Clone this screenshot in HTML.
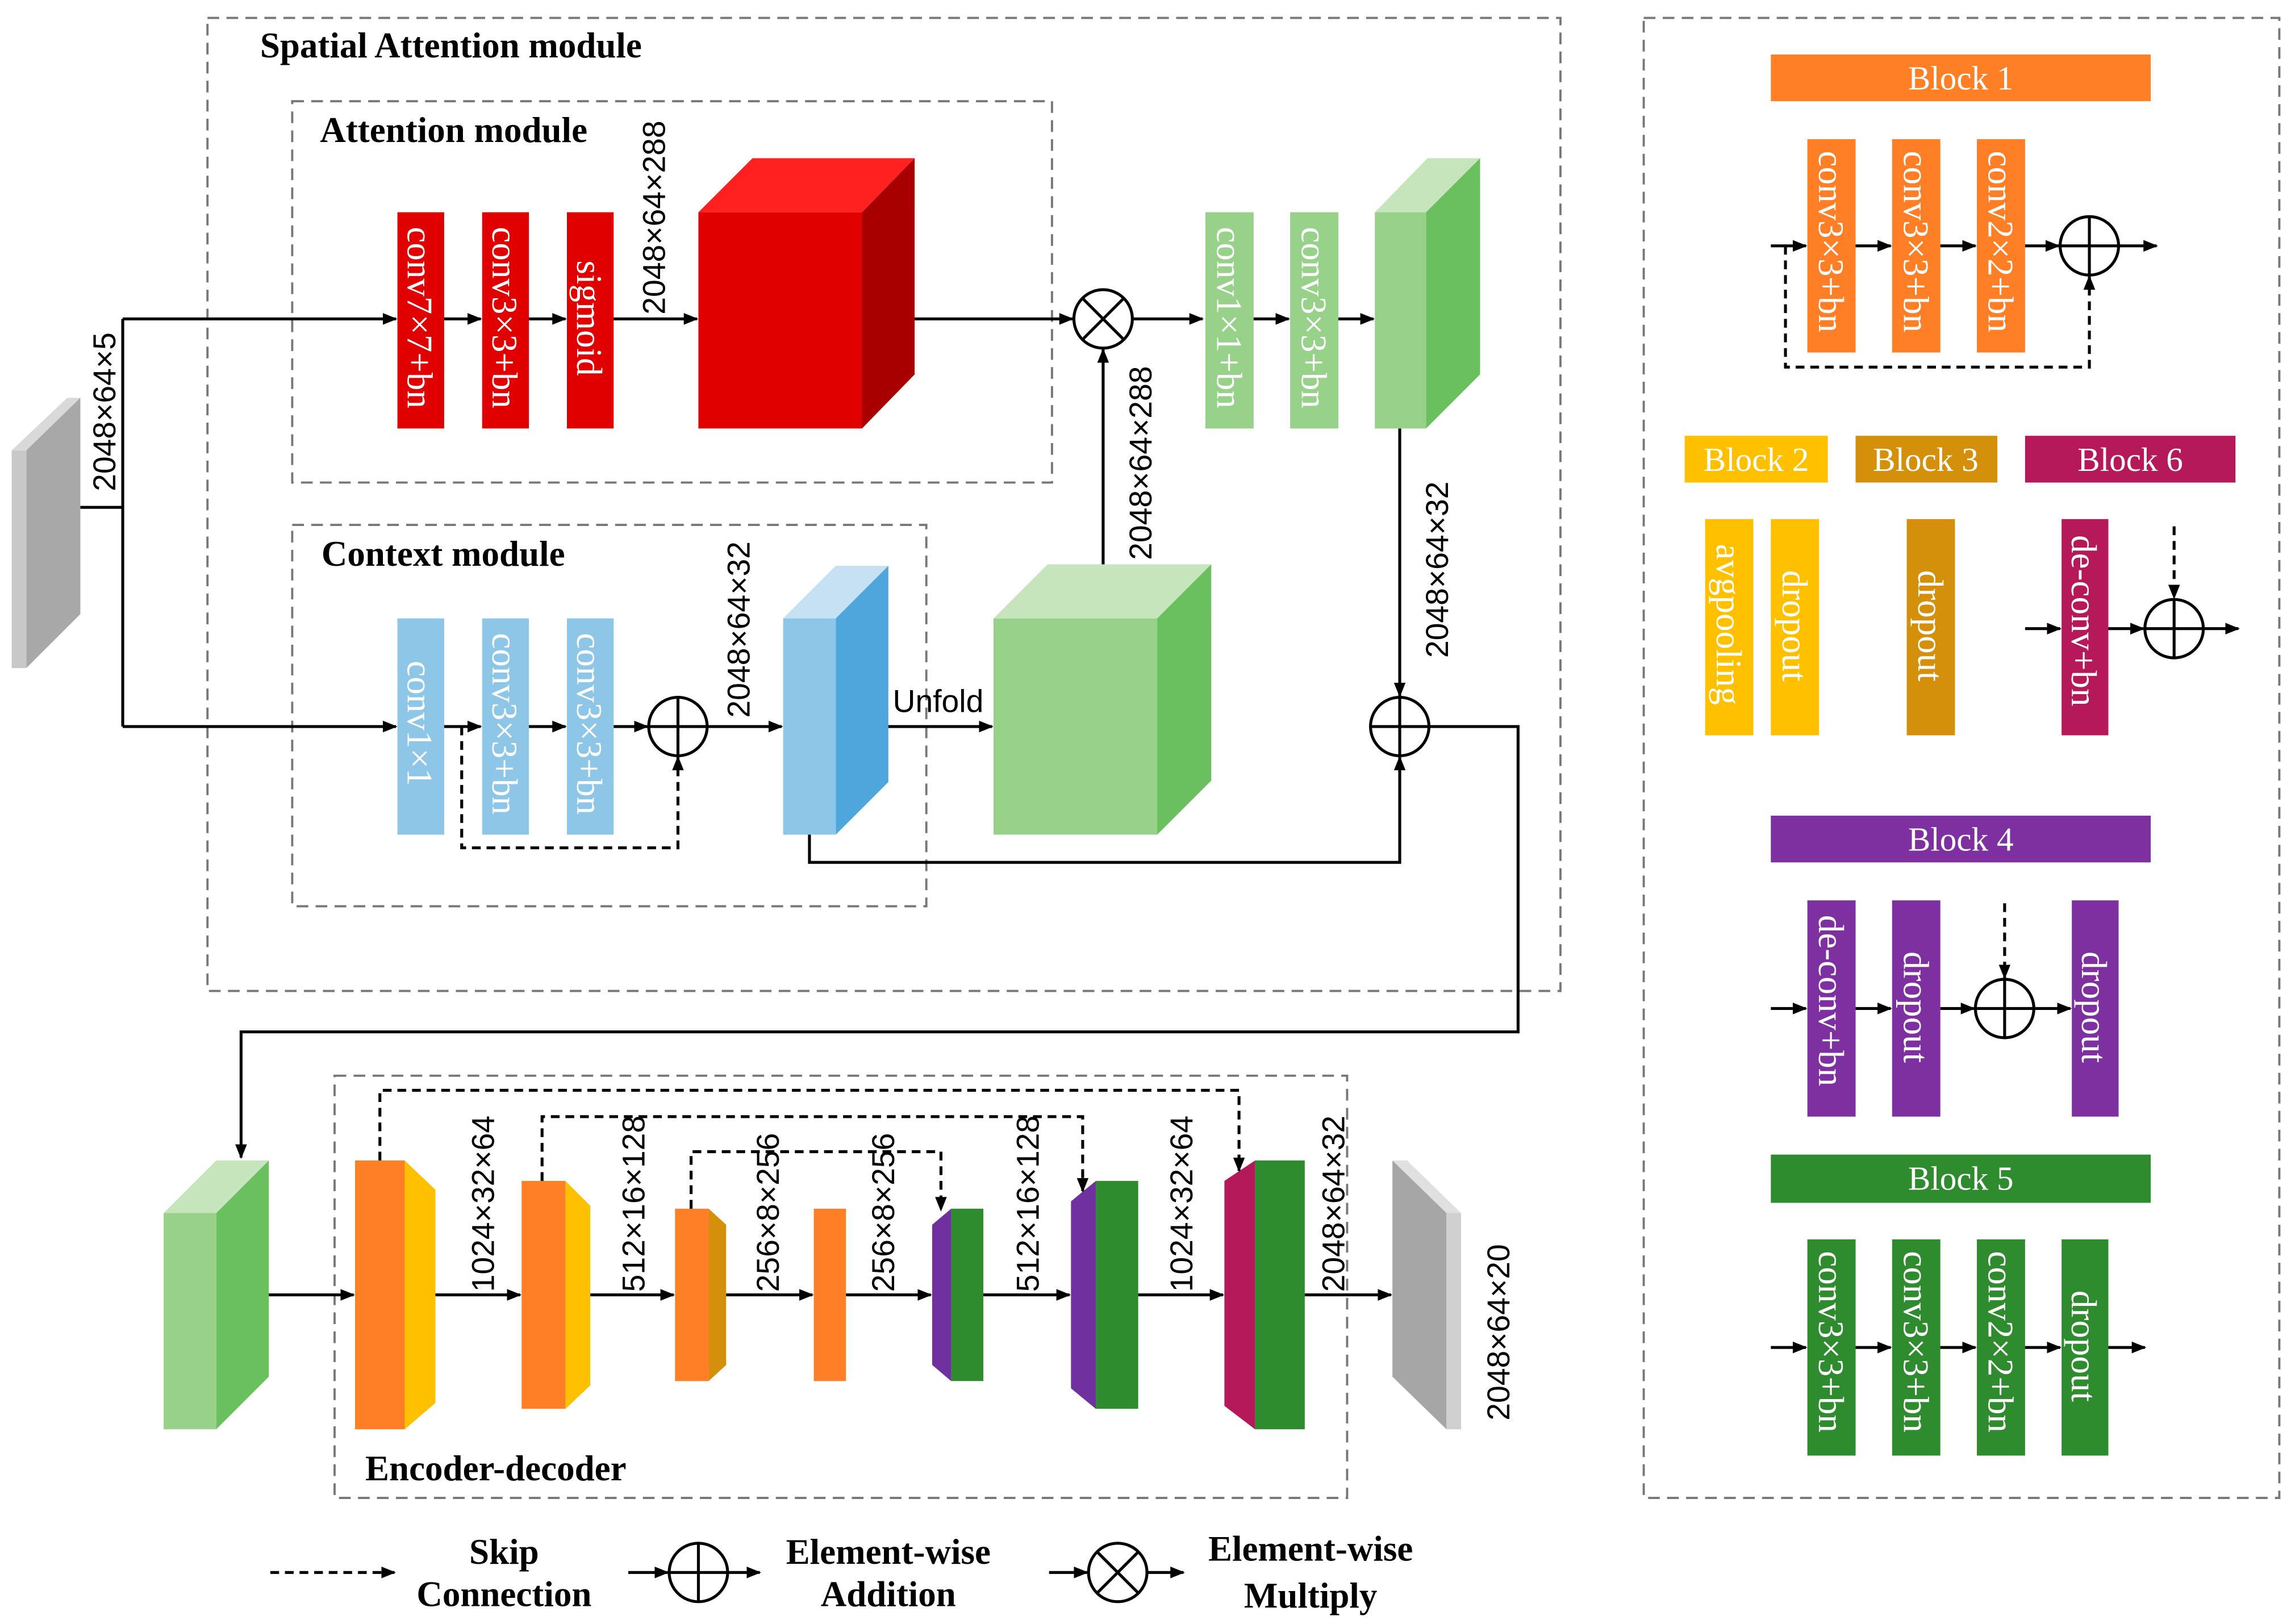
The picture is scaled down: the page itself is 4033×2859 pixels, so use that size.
<!DOCTYPE html>
<html><head><meta charset="utf-8"><style>
html,body{margin:0;padding:0;background:#fff;}
svg{display:block;}
.t{font-family:"Liberation Serif",serif;font-weight:bold;font-size:24.5px;fill:#000;}
.v{font-family:"Liberation Serif",serif;font-size:24.5px;fill:#fff;}
.d{font-family:"Liberation Sans",sans-serif;font-size:21.5px;fill:#000;}
.h{font-family:"Liberation Serif",serif;font-size:23px;fill:#fff;}
.ln{stroke:#000;stroke-width:2;fill:none;}
.ds{stroke:#000;stroke-width:2;fill:none;stroke-dasharray:6,4;}
.bx{stroke:#777;stroke-width:1.5;fill:none;stroke-dasharray:8,5;}
.c{fill:#fff;stroke:#000;stroke-width:2;}
</style></head><body>
<svg width="4033" height="2859" viewBox="0 0 1568 1111" xmlns="http://www.w3.org/2000/svg">
<defs><marker id="a" markerWidth="10" markerHeight="8" refX="9" refY="4" orient="auto" markerUnits="userSpaceOnUse"><path d="M0,0 L10,4 L0,8 z" fill="#000"/></marker></defs>
<rect width="1568" height="1111" fill="#fff"/>
<rect class="bx" x="142" y="12" width="926" height="666"/>
<rect class="bx" x="200" y="69" width="520" height="261"/>
<rect class="bx" x="200" y="359" width="434" height="261"/>
<rect class="bx" x="1125" y="12" width="435" height="1013"/>
<rect class="bx" x="229" y="736" width="693" height="289"/>
<text class="t" x="178" y="39">Spatial Attention module</text>
<text class="t" x="219" y="97">Attention module</text>
<text class="t" x="220" y="387">Context module</text>
<text class="t" x="250" y="1013">Encoder-decoder</text>

<polygon points="8,308 46,272 55,272 18,308" fill="#d9d9d9"/>
<polygon points="18,308 55,272 55,420 18,457" fill="#a8a8a8"/>
<rect x="8" y="308" width="10" height="149" fill="#c8c8c8"/>
<path class="ln" d="M55,347 H84 M84,218 V497"/>
<path class="ln" d="M84,218 H271" marker-end="url(#a)"/>
<path class="ln" d="M84,497 H271" marker-end="url(#a)"/>
<text class="d" transform="translate(79,336) rotate(-90)">2048×64×5</text>

<rect x="272" y="145" width="32" height="148" fill="#e00000"/>
<rect x="330" y="145" width="32" height="148" fill="#e00000"/>
<rect x="388" y="145" width="32" height="148" fill="#e00000"/>
<text class="v" transform="translate(279,155) rotate(90)">conv7×7+bn</text>
<text class="v" transform="translate(337,155) rotate(90)">conv3×3+bn</text>
<text class="v" transform="translate(395,178) rotate(90)">sigmoid</text>
<path class="ln" d="M304,218 H329" marker-end="url(#a)"/>
<path class="ln" d="M362,218 H387" marker-end="url(#a)"/>
<path class="ln" d="M420,218 H477" marker-end="url(#a)"/>
<text class="d" transform="translate(455,215) rotate(-90)">2048×64×288</text>
<polygon points="478,145 515,108 626,108 590,145" fill="#ff2020"/>
<polygon points="590,145 626,108 626,256 590,293" fill="#a80000"/>
<rect x="478" y="145" width="112" height="148" fill="#e00000"/>
<path class="ln" d="M626,218 H734" marker-end="url(#a)"/>
<circle class="c" cx="755" cy="218" r="20"/>
<path class="ln" d="M741,204 L769,232 M769,204 L741,232"/>
<path class="ln" d="M775,218 H823" marker-end="url(#a)"/>
<rect x="825" y="145" width="33" height="148" fill="#97d18a"/>
<rect x="883" y="145" width="33" height="148" fill="#97d18a"/>
<text class="v" transform="translate(833,155) rotate(90)">conv1×1+bn</text>
<text class="v" transform="translate(891,155) rotate(90)">conv3×3+bn</text>
<path class="ln" d="M858,218 H882" marker-end="url(#a)"/>
<path class="ln" d="M916,218 H940" marker-end="url(#a)"/>
<polygon points="941,145 977,108 1013,108 976,145" fill="#c6e5bd"/>
<polygon points="976,145 1013,108 1013,256 976,293" fill="#6abf5e"/>
<rect x="941" y="145" width="35" height="148" fill="#97d18a"/>
<path class="ln" d="M958,293 V476" marker-end="url(#a)"/>
<text class="d" transform="translate(991,450) rotate(-90)">2048×64×32</text>
<circle class="c" cx="958" cy="497" r="20"/>
<path class="ln" d="M938,497 H978 M958,477 V517"/>

<rect x="272" y="423" width="32" height="148" fill="#8ec6e8"/>
<rect x="330" y="423" width="32" height="148" fill="#8ec6e8"/>
<rect x="388" y="423" width="32" height="148" fill="#8ec6e8"/>
<text class="v" transform="translate(279,452) rotate(90)">conv1×1</text>
<text class="v" transform="translate(337,433) rotate(90)">conv3×3+bn</text>
<text class="v" transform="translate(395,433) rotate(90)">conv3×3+bn</text>
<path class="ln" d="M304,497 H329" marker-end="url(#a)"/>
<path class="ln" d="M362,497 H387" marker-end="url(#a)"/>
<path class="ln" d="M420,497 H443" marker-end="url(#a)"/>
<path class="ds" d="M316,497 V580 H464 V518" marker-end="url(#a)"/>
<circle class="c" cx="464" cy="497" r="20"/>
<path class="ln" d="M444,497 H484 M464,477 V517"/>
<path class="ln" d="M484,497 H535" marker-end="url(#a)"/>
<text class="d" transform="translate(513,491) rotate(-90)">2048×64×32</text>
<polygon points="536,423 572,387 608,387 572,423" fill="#c5e1f3"/>
<polygon points="572,423 608,387 608,535 572,571" fill="#4ea6dc"/>
<rect x="536" y="423" width="36" height="148" fill="#8ec6e8"/>
<path class="ln" d="M608,497 H679" marker-end="url(#a)"/>
<text class="d" x="611" y="487">Unfold</text>
<polygon points="680,423 717,386 829,386 792,423" fill="#c6e5bd"/>
<polygon points="792,423 829,386 829,534 792,571" fill="#6abf5e"/>
<rect x="680" y="423" width="112" height="148" fill="#97d18a"/>
<path class="ln" d="M755,386 V239" marker-end="url(#a)"/>
<text class="d" transform="translate(788,383) rotate(-90)">2048×64×288</text>
<path class="ln" d="M554,571 V590 H958 V518" marker-end="url(#a)"/>
<path class="ln" d="M978,497 H1039 V706 H165 V792" marker-end="url(#a)"/>

<polygon points="112,830 148,794 184,794 148,830" fill="#c6e5bd"/>
<polygon points="148,830 184,794 184,942 148,978" fill="#6abf5e"/>
<rect x="112" y="830" width="36" height="148" fill="#97d18a"/>
<path class="ln" d="M184,886 H242" marker-end="url(#a)"/>
<rect x="243" y="794" width="34" height="184" fill="#ff7f27"/>
<polygon points="277,794 298,814 298,960 277,978" fill="#ffc000"/>
<path class="ln" d="M298,886 H356" marker-end="url(#a)"/>
<text class="d" transform="translate(338,884) rotate(-90)">1024×32×64</text>
<rect x="357" y="808" width="30" height="156" fill="#ff7f27"/>
<polygon points="387,808 404,825 404,948 387,964" fill="#ffc000"/>
<path class="ln" d="M404,886 H461" marker-end="url(#a)"/>
<text class="d" transform="translate(441,884) rotate(-90)">512×16×128</text>
<rect x="462" y="827" width="23" height="118" fill="#ff7f27"/>
<polygon points="485,827 497,838 497,934 485,945" fill="#d4900a"/>
<path class="ln" d="M497,886 H556" marker-end="url(#a)"/>
<text class="d" transform="translate(533,884) rotate(-90)">256×8×256</text>
<rect x="557" y="827" width="22" height="118" fill="#ff7f27"/>
<path class="ln" d="M579,886 H637" marker-end="url(#a)"/>
<text class="d" transform="translate(612,884) rotate(-90)">256×8×256</text>
<polygon points="638,838 651,827 651,945 638,934" fill="#7030a0"/>
<rect x="651" y="827" width="22" height="118" fill="#2e8b2e"/>
<path class="ln" d="M673,886 H732" marker-end="url(#a)"/>
<text class="d" transform="translate(711,884) rotate(-90)">512×16×128</text>
<polygon points="733,822 750,808 750,964 733,950" fill="#7030a0"/>
<rect x="750" y="808" width="29" height="156" fill="#2e8b2e"/>
<path class="ln" d="M779,886 H837" marker-end="url(#a)"/>
<text class="d" transform="translate(816,884) rotate(-90)">1024×32×64</text>
<polygon points="838,808 859,794 859,978 838,962" fill="#b5195a"/>
<rect x="859" y="794" width="34" height="184" fill="#2e8b2e"/>
<path class="ln" d="M893,886 H952" marker-end="url(#a)"/>
<text class="d" transform="translate(920,884) rotate(-90)">2048×64×32</text>
<polygon points="953,794 963,794 1000,830 990,830" fill="#e0e0e0"/>
<polygon points="953,794 990,830 990,978 953,942" fill="#a6a6a6"/>
<rect x="990" y="830" width="10" height="148" fill="#d0d0d0"/>
<text class="d" transform="translate(1033,972) rotate(-90)">2048×64×20</text>
<path class="ds" d="M260,794 V746 H848 V801" marker-end="url(#a)"/>
<path class="ds" d="M371,808 V764 H741 V815" marker-end="url(#a)"/>
<path class="ds" d="M473,827 V788 H644 V828" marker-end="url(#a)"/>

<path class="ds" d="M185,1076 H270" marker-end="url(#a)"/>
<text class="t" x="345" y="1070" text-anchor="middle">Skip</text>
<text class="t" x="345" y="1099" text-anchor="middle">Connection</text>
<path class="ln" d="M430,1076 H457" marker-end="url(#a)"/>
<circle class="c" cx="478" cy="1076" r="20"/>
<path class="ln" d="M458,1076 H498 M478,1056 V1096"/>
<path class="ln" d="M498,1076 H520" marker-end="url(#a)"/>
<text class="t" x="608" y="1070" text-anchor="middle">Element-wise</text>
<text class="t" x="608" y="1099" text-anchor="middle">Addition</text>
<path class="ln" d="M718,1076 H744" marker-end="url(#a)"/>
<circle class="c" cx="765" cy="1076" r="20"/>
<path class="ln" d="M751,1062 L779,1090 M779,1062 L751,1090"/>
<path class="ln" d="M785,1076 H810" marker-end="url(#a)"/>
<text class="t" x="897" y="1068" text-anchor="middle">Element-wise</text>
<text class="t" x="897" y="1100" text-anchor="middle">Multiply</text>

<rect x="1212" y="37" width="260" height="32" fill="#ff7f27"/>
<text class="h" x="1342" y="61" text-anchor="middle">Block 1</text>
<rect x="1237" y="95" width="33" height="146" fill="#ff7f27"/>
<rect x="1295" y="95" width="33" height="146" fill="#ff7f27"/>
<rect x="1353" y="95" width="33" height="146" fill="#ff7f27"/>
<text class="v" transform="translate(1245,103) rotate(90)">conv3×3+bn</text>
<text class="v" transform="translate(1303,103) rotate(90)">conv3×3+bn</text>
<text class="v" transform="translate(1361,103) rotate(90)">conv2×2+bn</text>
<path class="ln" d="M1212,168 H1236" marker-end="url(#a)"/>
<path class="ln" d="M1270,168 H1294" marker-end="url(#a)"/>
<path class="ln" d="M1328,168 H1352" marker-end="url(#a)"/>
<path class="ln" d="M1386,168 H1409" marker-end="url(#a)"/>
<circle class="c" cx="1430" cy="168" r="20"/>
<path class="ln" d="M1410,168 H1450 M1430,148 V188"/>
<path class="ln" d="M1450,168 H1476" marker-end="url(#a)"/>
<path class="ds" d="M1222,168 V251 H1430 V189" marker-end="url(#a)"/>

<rect x="1153" y="298" width="98" height="32" fill="#ffc000"/>
<text class="h" x="1202" y="322" text-anchor="middle">Block 2</text>
<rect x="1270" y="298" width="97" height="32" fill="#d4900a"/>
<text class="h" x="1318" y="322" text-anchor="middle">Block 3</text>
<rect x="1386" y="298" width="144" height="32" fill="#b5195a"/>
<text class="h" x="1458" y="322" text-anchor="middle">Block 6</text>
<rect x="1167" y="355" width="33" height="148" fill="#ffc000"/>
<rect x="1212" y="355" width="33" height="148" fill="#ffc000"/>
<rect x="1305" y="355" width="33" height="148" fill="#d4900a"/>
<rect x="1411" y="355" width="32" height="148" fill="#b5195a"/>
<text class="v" transform="translate(1175,372) rotate(90)">avgpooling</text>
<text class="v" transform="translate(1220,390) rotate(90)">dropout</text>
<text class="v" transform="translate(1313,390) rotate(90)">dropout</text>
<text class="v" transform="translate(1418,366) rotate(90)">de-conv+bn</text>
<path class="ln" d="M1386,430 H1410" marker-end="url(#a)"/>
<path class="ln" d="M1443,430 H1467" marker-end="url(#a)"/>
<circle class="c" cx="1488" cy="430" r="20"/>
<path class="ln" d="M1468,430 H1508 M1488,410 V450"/>
<path class="ln" d="M1508,430 H1532" marker-end="url(#a)"/>
<path class="ds" d="M1488,360 V409" marker-end="url(#a)"/>

<rect x="1212" y="558" width="260" height="32" fill="#7e2fa0"/>
<text class="h" x="1342" y="582" text-anchor="middle">Block 4</text>
<rect x="1237" y="616" width="33" height="148" fill="#7e2fa0"/>
<rect x="1295" y="616" width="33" height="148" fill="#7e2fa0"/>
<rect x="1418" y="616" width="32" height="148" fill="#7e2fa0"/>
<text class="v" transform="translate(1245,626) rotate(90)">de-conv+bn</text>
<text class="v" transform="translate(1303,651) rotate(90)">dropout</text>
<text class="v" transform="translate(1425,651) rotate(90)">dropout</text>
<path class="ln" d="M1212,690 H1236" marker-end="url(#a)"/>
<path class="ln" d="M1270,690 H1294" marker-end="url(#a)"/>
<path class="ln" d="M1328,690 H1351" marker-end="url(#a)"/>
<circle class="c" cx="1372" cy="690" r="20"/>
<path class="ln" d="M1352,690 H1392 M1372,670 V710"/>
<path class="ln" d="M1392,690 H1417" marker-end="url(#a)"/>
<path class="ds" d="M1372,618 V669" marker-end="url(#a)"/>

<rect x="1212" y="790" width="260" height="33" fill="#2e8b2e"/>
<text class="h" x="1342" y="814" text-anchor="middle">Block 5</text>
<rect x="1237" y="848" width="33" height="148" fill="#2e8b2e"/>
<rect x="1295" y="848" width="33" height="148" fill="#2e8b2e"/>
<rect x="1353" y="848" width="33" height="148" fill="#2e8b2e"/>
<rect x="1411" y="848" width="32" height="148" fill="#2e8b2e"/>
<text class="v" transform="translate(1245,856) rotate(90)">conv3×3+bn</text>
<text class="v" transform="translate(1303,856) rotate(90)">conv3×3+bn</text>
<text class="v" transform="translate(1361,856) rotate(90)">conv2×2+bn</text>
<text class="v" transform="translate(1418,883) rotate(90)">dropout</text>
<path class="ln" d="M1212,922 H1236" marker-end="url(#a)"/>
<path class="ln" d="M1270,922 H1294" marker-end="url(#a)"/>
<path class="ln" d="M1328,922 H1352" marker-end="url(#a)"/>
<path class="ln" d="M1386,922 H1410" marker-end="url(#a)"/>
<path class="ln" d="M1443,922 H1468" marker-end="url(#a)"/>
</svg>
</body></html>
